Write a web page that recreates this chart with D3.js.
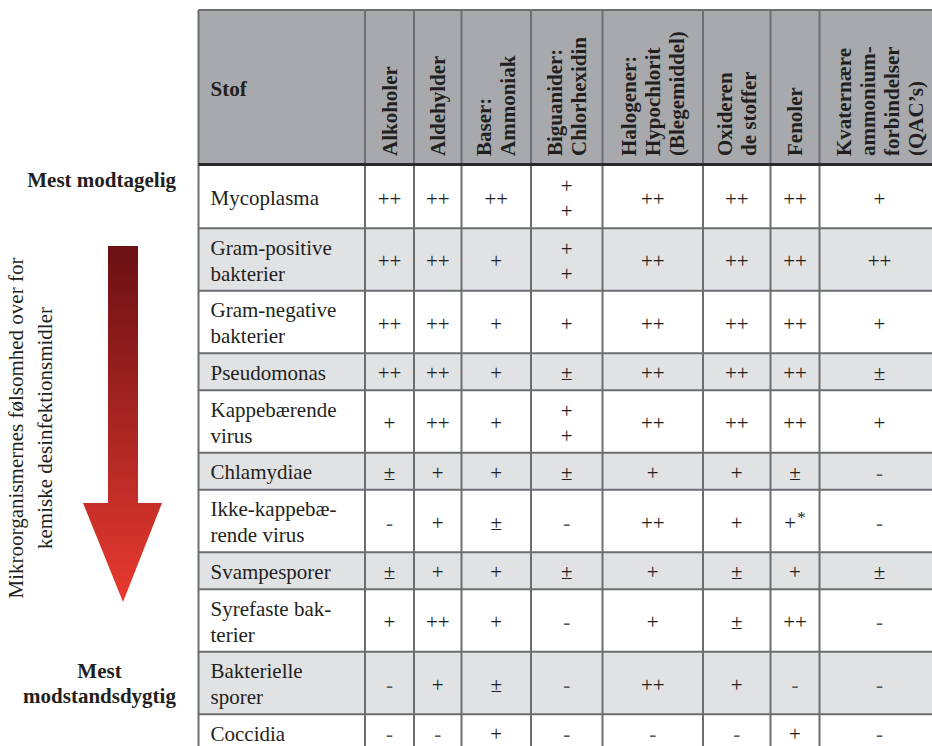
<!DOCTYPE html>
<html>
<head>
<meta charset="utf-8">
<script src="https://cdnjs.cloudflare.com/ajax/libs/d3/7.8.5/d3.min.js"></script>
<style>
  html, body { margin: 0; padding: 0; background: #fff; }
  svg { display: block; font-family: "Liberation Serif", "Times New Roman", serif; }
</style>
</head>
<body>
<div id="chart"></div>
<script>
// DATA
const headerLabel = 'Stof';
const columns = [
  ['Alkoholer'],
  ['Aldehylder'],
  ['Baser:', 'Ammoniak'],
  ['Biguanider:', 'Chlorhexidin'],
  ['Halogener:', 'Hypochlorit', '(Blegemiddel)'],
  ['Oxideren', 'de stoffer'],
  ['Fenoler'],
  ['Kvaternære', 'ammonium-', 'forbindelser', '(QAC’s)']
];
const organisms = [
  ['Mycoplasma'],
  ['Gram-positive', 'bakterier'],
  ['Gram-negative', 'bakterier'],
  ['Pseudomonas'],
  ['Kappebærende', 'virus'],
  ['Chlamydiae'],
  ['Ikke-kappebæ-', 'rende virus'],
  ['Svampesporer'],
  ['Syrefaste bak-', 'terier'],
  ['Bakterielle', 'sporer'],
  ['Coccidia']
];
// one row per organism, one value per column ("\n" = stacked in the cell)
const values = [
  ['++', '++', '++', '+\n+', '++', '++', '++', '+'],
  ['++', '++', '+', '+\n+', '++', '++', '++', '++'],
  ['++', '++', '+', '+', '++', '++', '++', '+'],
  ['++', '++', '+', '±', '++', '++', '++', '±'],
  ['+', '++', '+', '+\n+', '++', '++', '++', '+'],
  ['±', '+', '+', '±', '+', '+', '±', '-'],
  ['-', '+', '±', '-', '++', '+', '+*', '-'],
  ['±', '+', '+', '±', '+', '±', '+', '±'],
  ['+', '++', '+', '-', '+', '±', '++', '-'],
  ['-', '+', '±', '-', '++', '+', '-', '-'],
  ['-', '-', '+', '-', '-', '-', '+', '-']
];
const axisTitle = ['Mikroorganismernes følsomhed over for', 'kemiske desinfektionsmidler'];
const topLabel = ['Mest modtagelig'];
const bottomLabel = ['Mest', 'modstandsdygtig'];

// LAYOUT
const W = 932, H = 746;
const textColor = '#231f20';
const lineColor = '#6d6e71';
const headerFill = '#a7a9ac';
const stripeFill = '#e1e2e4';
const tableLeft = 198.5;
const colWidths = [166.5, 49, 47.5, 69.5, 71.5, 100.5, 67.5, 49, 120];
const headerTop = 10, headerBottom = 165;
const rowTop = 165.8;
const oneLine = 37, extraLine = 25.5;

const svg = d3.select('#chart').append('svg')
  .attr('width', W).attr('height', H);

const defs = svg.append('defs');
const grad = defs.append('linearGradient').attr('id', 'arrowGrad')
  .attr('x1', 0).attr('y1', 0).attr('x2', 0).attr('y2', 1);
grad.append('stop').attr('offset', '0%').attr('stop-color', '#6a1014');
grad.append('stop').attr('offset', '100%').attr('stop-color', '#e83a2f');

// column positions
const colEdges = [tableLeft].concat(Array.from(d3.cumsum(colWidths), d => tableLeft + d));
const tableRight = colEdges[colEdges.length - 1];

// row heights from the number of lines in each row
const rowLines = organisms.map((o, i) => d3.max([o.length].concat(values[i].map(v => v.split('\n').length))));
const rowHeights = rowLines.map(n => oneLine + extraLine * (n - 1));
const rowEdges = [rowTop].concat(Array.from(d3.cumsum(rowHeights), d => rowTop + d));

// header background
svg.append('rect')
  .attr('x', tableLeft).attr('y', headerTop)
  .attr('width', tableRight - tableLeft).attr('height', headerBottom - headerTop)
  .attr('fill', headerFill);

// row stripes
svg.selectAll('.stripe')
  .data(organisms)
  .enter().append('rect')
  .attr('class', 'stripe')
  .attr('x', tableLeft)
  .attr('y', (d, i) => rowEdges[i])
  .attr('width', tableRight - tableLeft)
  .attr('height', (d, i) => rowHeights[i])
  .attr('fill', (d, i) => i % 2 === 1 ? stripeFill : '#fff');

// horizontal lines
svg.selectAll('.hline')
  .data(rowEdges.slice(1))
  .enter().append('line')
  .attr('x1', tableLeft).attr('x2', tableRight)
  .attr('y1', d => d).attr('y2', d => d)
  .attr('stroke', lineColor).attr('stroke-width', 2);

svg.append('line')
  .attr('x1', tableLeft).attr('x2', tableRight)
  .attr('y1', headerTop).attr('y2', headerTop)
  .attr('stroke', lineColor).attr('stroke-width', 2);

// vertical lines
svg.selectAll('.vline')
  .data(colEdges)
  .enter().append('line')
  .attr('x1', d => d).attr('x2', d => d)
  .attr('y1', headerTop).attr('y2', H + 10)
  .attr('stroke', lineColor).attr('stroke-width', 2);

// thick header rule
svg.append('line')
  .attr('x1', tableLeft).attr('x2', tableRight)
  .attr('y1', headerBottom - 0.5).attr('y2', headerBottom - 0.5)
  .attr('stroke', '#2b2a2b').attr('stroke-width', 3.2);

// header texts
svg.append('text')
  .attr('x', tableLeft + 12).attr('y', 96)
  .attr('font-size', 21).attr('font-weight', 'bold')
  .attr('fill', textColor)
  .text(headerLabel);

const headG = svg.selectAll('.head')
  .data(columns)
  .enter().append('g')
  .attr('class', 'head');

headG.each(function(lines, i) {
  const cx = (colEdges[i + 1] + colEdges[i + 2]) / 2;
  const n = lines.length;
  d3.select(this).selectAll('text')
    .data(lines)
    .enter().append('text')
    .attr('transform', (d, j) => 'translate(' + (cx + 7 + (j - (n - 1) / 2) * 24) + ',156) rotate(-90)')
    .attr('font-size', 21).attr('font-weight', 'bold')
    .attr('fill', textColor)
    .text(d => d);
});

// organism labels
svg.selectAll('.org')
  .data(organisms)
  .enter().append('text')
  .attr('class', 'org')
  .attr('font-size', 21)
  .attr('fill', textColor)
  .each(function(lines, i) {
    const cy = (rowEdges[i] + rowEdges[i + 1]) / 2;
    const n = lines.length;
    d3.select(this).selectAll('tspan')
      .data(lines)
      .enter().append('tspan')
      .attr('x', tableLeft + 12)
      .attr('y', (d, j) => cy + 8 + (j - (n - 1) / 2) * 26)
      .text(d => d);
  });

// cell values
values.forEach(function(row, i) {
  const cy = (rowEdges[i] + rowEdges[i + 1]) / 2;
  svg.selectAll('.cell-' + i)
    .data(row)
    .enter().append('text')
    .attr('class', 'cell-' + i)
    .attr('font-size', 21)
    .attr('text-anchor', 'middle')
    .attr('fill', d => d === '-' ? '#58595b' : textColor)
    .each(function(v, c) {
      const cx = (colEdges[c + 1] + colEdges[c + 2]) / 2;
      const parts = v.split('\n');
      const n = parts.length;
      const t = d3.select(this);
      parts.forEach(function(p, j) {
        const y = cy + 8.5 + (j - (n - 1) / 2) * 25;
        if (p.endsWith('*')) {
          t.append('tspan').attr('x', cx).attr('y', y).text(p.slice(0, -1));
          t.append('tspan').attr('font-size', 17).attr('dy', -7).attr('dx', 1).text('*');
        } else {
          t.append('tspan').attr('x', cx).attr('y', y).text(p);
        }
      });
    });
});

// left side: arrow and labels
svg.append('path')
  .attr('d', 'M108,246 L138,246 L138,503 L162,503 L123,602 L83,503 L108,503 Z')
  .attr('fill', 'url(#arrowGrad)');

svg.append('text')
  .attr('x', 176).attr('y', 187)
  .attr('text-anchor', 'end')
  .attr('font-size', 21).attr('font-weight', 'bold')
  .attr('fill', textColor)
  .text(topLabel[0]);

svg.append('text')
  .attr('font-size', 21).attr('font-weight', 'bold')
  .attr('text-anchor', 'middle')
  .attr('fill', textColor)
  .selectAll('tspan')
  .data(bottomLabel)
  .enter().append('tspan')
  .attr('x', 99.5)
  .attr('y', (d, i) => 678 + i * 25)
  .text(d => d);

svg.append('g')
  .attr('transform', 'translate(0,428) rotate(-90)')
  .selectAll('text')
  .data(axisTitle)
  .enter().append('text')
  .attr('x', 0)
  .attr('y', (d, i) => 23 + i * 29)
  .attr('text-anchor', 'middle')
  .attr('font-size', 21)
  .attr('fill', textColor)
  .text(d => d);
</script>
</body>
</html>
